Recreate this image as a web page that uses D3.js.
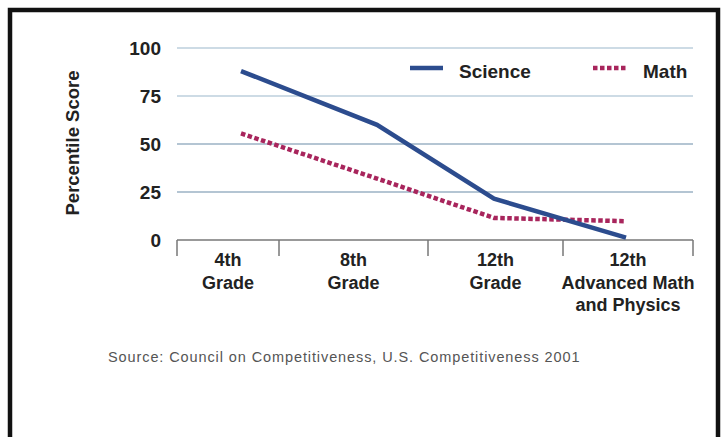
<!DOCTYPE html>
<html>
<head>
<meta charset="utf-8">
<script src="https://cdn.jsdelivr.net/npm/d3@7"></script>
<style>
  body { margin: 0; background: #fff; }
  text { font-family: "Liberation Sans", Arial, sans-serif; }
</style>
</head>
<body>
<script>
var w = 728;
var h = 437;

// data
var grades = [["4th", "Grade"], ["8th", "Grade"], ["12th", "Grade"], ["12th", "Advanced Math", "and Physics"]];
var science = [88, 60, 21.5, 1.2];
var math = [55.5, 32, 11.5, 9.8];
var yTicks = [0, 25, 50, 75, 100];
var source = "Source: Council on Competitiveness, U.S. Competitiveness 2001";

var svg = d3.select('body')
            .append('svg')
            .attr('width', w)
            .attr('height', h);

// frame
svg.append('path')
   .attr('d', 'M10,437 V10 H718 V437')
   .attr('fill', 'none')
   .attr('stroke', '#111')
   .attr('stroke-width', 4.5);

var y = d3.scaleLinear()
          .domain([0, 100])
          .range([240, 48]);

// category edges and point positions are uneven in the original
var xEdge = d3.scaleLinear()
              .domain([0, 1, 2, 3, 4])
              .range([177, 279, 428, 563, 693]);
var xPt = d3.scaleLinear()
            .domain([0, 1, 2, 3])
            .range([241, 377, 494, 626]);

// gridlines
svg.append('g')
   .selectAll('line')
   .data(yTicks.filter(function(d){ return d > 0; }))
   .enter()
   .append('line')
   .attr('x1', 177)
   .attr('x2', 693)
   .attr('y1', function(d){ return y(d); })
   .attr('y2', function(d){ return y(d); })
   .attr('stroke', function(d){ return d >= 75 ? '#bccfdd' : '#9bb2c4'; })
   .attr('stroke-width', 1.3);

// y axis labels
var yAxis = d3.axisLeft(y)
              .tickValues(yTicks)
              .tickSize(0)
              .tickPadding(0);
var ya = svg.append('g')
            .attr('transform', 'translate(161,0)')
            .call(yAxis);
ya.select('.domain').remove();
ya.selectAll('text')
  .attr('font-family', '"Liberation Sans", Arial, sans-serif')
  .attr('font-size', 19)
  .attr('font-weight', 'bold')
  .attr('fill', '#222');

svg.append('text')
   .attr('transform', 'translate(79,143) rotate(-90)')
   .attr('text-anchor', 'middle')
   .attr('font-size', 18.5)
   .attr('font-weight', 'bold')
   .attr('fill', '#222')
   .text('Percentile Score');

// x axis: baseline with boundary ticks
var xa = svg.append('g');
xa.append('line')
  .attr('x1', xEdge(0)).attr('x2', xEdge(4))
  .attr('y1', y(0)).attr('y2', y(0))
  .attr('stroke', '#777')
  .attr('stroke-width', 1.5);
xa.selectAll('.tick')
  .data(d3.range(5))
  .enter()
  .append('line')
  .attr('class', 'tick')
  .attr('x1', function(d){ return xEdge(d); })
  .attr('x2', function(d){ return xEdge(d); })
  .attr('y1', y(0))
  .attr('y2', y(0) + 16)
  .attr('stroke', '#777')
  .attr('stroke-width', 1.5);

var lbl = xa.selectAll('.lbl')
            .data(grades)
            .enter()
            .append('text')
            .attr('class', 'lbl')
            .attr('text-anchor', 'middle')
            .attr('font-size', 18)
            .attr('font-weight', 'bold')
            .attr('fill', '#222')
            .attr('transform', function(d, i){ return 'translate(' + xEdge(i + 0.5) + ',266)'; });
lbl.selectAll('tspan')
   .data(function(d){ return d; })
   .enter()
   .append('tspan')
   .attr('x', 0)
   .attr('y', function(d, i){ return i * 22.5; })
   .text(function(d){ return d; });

// lines
var line = d3.line()
             .x(function(d, i){ return xPt(i); })
             .y(function(d){ return y(d); });

svg.append('path')
   .datum(math)
   .attr('d', line)
   .attr('fill', 'none')
   .attr('stroke', '#a8255c')
   .attr('stroke-width', 4.5)
   .attr('stroke-dasharray', '4.5,2.5');

svg.append('path')
   .datum(science)
   .attr('d', line)
   .attr('fill', 'none')
   .attr('stroke', '#2c4c8e')
   .attr('stroke-width', 4.5);

// legend
var legend = svg.append('g');
legend.append('line')
      .attr('x1', 410).attr('x2', 443)
      .attr('y1', 68).attr('y2', 68)
      .attr('stroke', '#2c4c8e')
      .attr('stroke-width', 4.5);
legend.append('text')
      .attr('x', 459).attr('y', 78)
      .attr('font-size', 19)
      .attr('font-weight', 'bold')
      .attr('fill', '#222')
      .text('Science');
legend.append('line')
      .attr('x1', 593).attr('x2', 628)
      .attr('y1', 68).attr('y2', 68)
      .attr('stroke', '#a8255c')
      .attr('stroke-width', 4.5)
      .attr('stroke-dasharray', '4.5,2.5');
legend.append('text')
      .attr('x', 643).attr('y', 78)
      .attr('font-size', 19)
      .attr('font-weight', 'bold')
      .attr('fill', '#222')
      .text('Math');

svg.append('text')
   .attr('x', 108)
   .attr('y', 362)
   .attr('font-size', 14.5)
   .attr('letter-spacing', 0.9)
   .attr('fill', '#555')
   .text(source);
</script>
</body>
</html>
